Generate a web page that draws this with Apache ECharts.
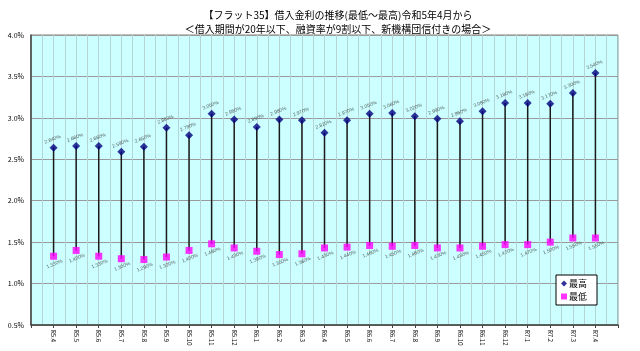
<!DOCTYPE html>
<html>
<head>
<meta charset="utf-8">
<script src="https://cdn.jsdelivr.net/npm/echarts@6/dist/echarts.min.js"></script>
<style>html,body{margin:0;padding:0;background:#fff;}#c{width:640px;height:351px;}</style>
</head>
<body>
<div id="c"></div>
<script>
const titleLines = ['【フラット35】借入金利の推移(最低～最高)令和5年4月から', '＜借入期間が20年以下、融資率が9割以下、新機構団信付きの場合＞'];
const categories = ['R5.4','R5.5','R5.6','R5.7','R5.8','R5.9','R5.10','R5.11','R5.12','R6.1','R6.2','R6.3','R6.4','R6.5','R6.6','R6.7','R6.8','R6.9','R6.10','R6.11','R6.12','R7.1','R7.2','R7.3','R7.4'];
const highRates = [2.64,2.66,2.66,2.59,2.65,2.88,2.79,3.05,2.98,2.89,2.98,2.97,2.82,2.97,3.05,3.06,3.02,2.99,2.96,3.08,3.18,3.18,3.17,3.30,3.54];
const lowRates = [1.33,1.40,1.33,1.30,1.29,1.32,1.40,1.48,1.43,1.39,1.35,1.36,1.43,1.44,1.46,1.45,1.46,1.43,1.43,1.45,1.47,1.47,1.50,1.55,1.55];
const yTicks = {min: 0.5, max: 4.0, interval: 0.5};
const seriesNames = ['最高', '最低'];

const paddedCats = [''].concat(categories, ['']);
const font = '"Noto Sans CJK JP", "Liberation Sans", sans-serif';
const chart = echarts.init(document.getElementById('c'), null, {renderer: 'canvas'});
const fmt = p => p.value[1].toFixed(3) + '%';
chart.setOption({
  animation: false,
  backgroundColor: '#ffffff',
  textStyle: {fontFamily: font},
  title: {
    text: titleLines.join('\n'),
    left: 333, textAlign: 'center', top: 3,
    textStyle: {fontSize: 10, fontWeight: 'normal', color: '#000', lineHeight: 14, fontFamily: font}
  },
  legend: {
    orient: 'vertical', left: 556, top: 275,
    data: [
      {name: seriesNames[0], icon: 'diamond', itemStyle: {color: '#000080'}},
      {name: seriesNames[1], icon: 'rect', itemStyle: {color: '#FF00FF'}}
    ],
    itemWidth: 6, itemHeight: 6, itemGap: 4,
    padding: [4, 10, 4, 5],
    backgroundColor: '#fff', borderColor: '#000', borderWidth: 1,
    textStyle: {fontSize: 9, color: '#000', fontFamily: font, padding: [0, 0, 0, -3]}
  },
  grid: {left: 31, right: 22, top: 35, bottom: 26, show: true, backgroundColor: '#CCFFFF', borderColor: '#808080', borderWidth: 1},
  xAxis: [
    {
      type: 'category', data: paddedCats, boundaryGap: false,
      axisLine: {lineStyle: {color: '#404040', width: 1.5}},
      axisTick: {show: true, length: 3, lineStyle: {color: '#404040'}},
      axisLabel: {interval: 0, rotate: -90, fontSize: 6, color: '#000', margin: 5, fontFamily: font},
      splitLine: {show: false}
    },
    {
      type: 'value', min: 0, max: (categories.length + 1) * 2, interval: 1, position: 'bottom',
      axisLine: {show: false}, axisTick: {show: false}, axisLabel: {show: false},
      splitLine: {show: true, lineStyle: {color: '#b5d5d5', width: 1}}
    }
  ],
  yAxis: {
    type: 'value', min: yTicks.min, max: yTicks.max, interval: yTicks.interval,
    axisLine: {show: true, lineStyle: {color: '#404040', width: 1.5}},
    axisTick: {show: false},
    axisLabel: {formatter: v => v.toFixed(1) + '%', fontSize: 7, color: '#000', margin: 7, fontFamily: font},
    splitLine: {show: true, lineStyle: {color: '#9a9a9a', width: 1}}
  },
  series: [
    {
      type: 'custom', xAxisIndex: 0, yAxisIndex: 0, silent: true, z: 2,
      data: categories.map((c, i) => [c, lowRates[i], highRates[i]]),
      encode: {x: 0, y: [1, 2]},
      renderItem: function (params, api) {
        const x = api.value(0);
        const a = api.coord([x, api.value(1)]);
        const b = api.coord([x, api.value(2)]);
        return {type: 'line', shape: {x1: a[0], y1: a[1], x2: b[0], y2: b[1]}, style: {stroke: '#1a1a1a', lineWidth: 1.5}};
      }
    },
    {
      name: seriesNames[0], type: 'scatter', xAxisIndex: 0, yAxisIndex: 0, z: 3,
      symbol: 'diamond', symbolSize: 8,
      itemStyle: {color: '#000080'},
      data: categories.map((c, i) => [c, highRates[i]]),
      label: {show: true, position: 'top', distance: 2, formatter: fmt, rotate: 22, fontSize: 5, color: '#333', fontFamily: '"Liberation Sans", sans-serif'}
    },
    {
      name: seriesNames[1], type: 'scatter', xAxisIndex: 0, yAxisIndex: 0, z: 3,
      symbol: 'rect', symbolSize: 7,
      itemStyle: {color: '#FF00FF'},
      data: categories.map((c, i) => [c, lowRates[i]]),
      label: {show: true, position: 'bottom', distance: 2, formatter: fmt, rotate: 22, fontSize: 5, color: '#333', fontFamily: '"Liberation Sans", sans-serif'}
    }
  ]
});
</script>
</body>
</html>
